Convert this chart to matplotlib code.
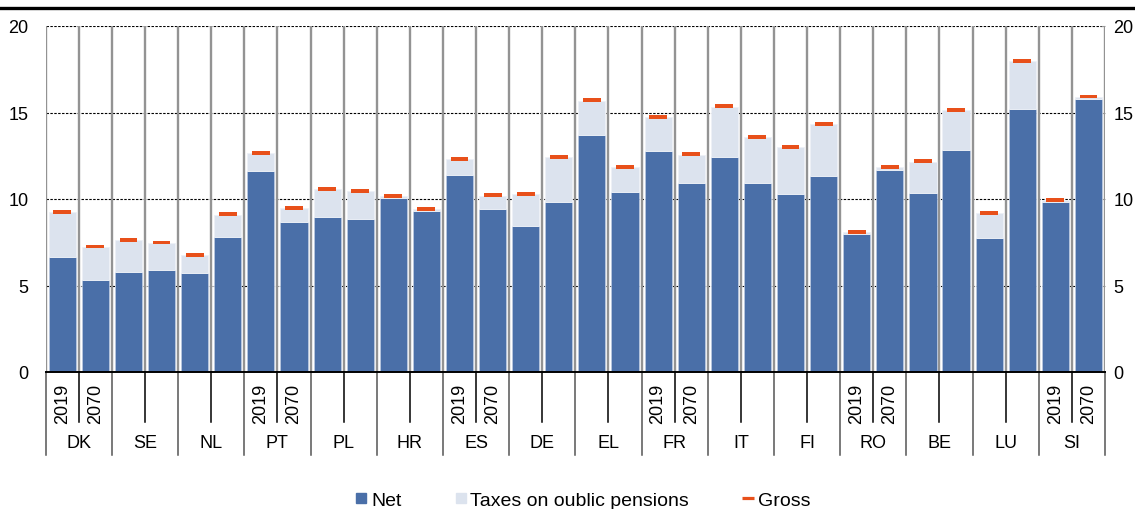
import matplotlib
matplotlib.use("Agg")
import matplotlib.pyplot as plt
from matplotlib.lines import Line2D
import matplotlib.transforms as mtransforms
import numpy as np

plt.rcParams['font.family'] = ['Liberation Sans', 'DejaVu Sans']

countries = ['DK', 'SE', 'NL', 'PT', 'PL', 'HR', 'ES', 'DE',
             'EL', 'FR', 'IT', 'FI', 'RO', 'BE', 'LU', 'SI']
years = ['2019', '2070']
year_label_countries = ['DK', 'PT', 'ES', 'FR', 'RO', 'SI']

# values per bar, in order country by country: 2019, 2070
net = [6.63, 5.32, 5.76, 5.91, 5.70, 7.78, 11.60, 8.69,
       8.94, 8.84, 10.06, 9.32, 11.39, 9.44, 8.44, 9.83,
       13.72, 10.40, 12.77, 10.90, 12.40, 10.94, 10.31, 11.35,
       7.99, 11.69, 10.36, 12.81, 7.76, 15.18, 9.84, 15.80]
taxes = [2.62, 1.91, 1.87, 1.56, 1.06, 1.31, 1.06, 0.79,
         1.64, 1.60, 0.11, 0.10, 0.92, 0.75, 1.85, 2.60,
         1.96, 1.45, 1.97, 1.66, 2.94, 2.64, 2.69, 2.97,
         0.10, 0.16, 1.80, 2.32, 1.43, 2.78, 0.10, 0.11]
gross = [9.27, 7.25, 7.65, 7.49, 6.78, 9.11, 12.68, 9.50,
         10.60, 10.46, 10.19, 9.44, 12.33, 10.21, 10.31, 12.45,
         15.70, 11.87, 14.76, 12.58, 15.36, 13.60, 13.02, 14.34,
         8.11, 11.87, 12.18, 15.15, 9.21, 17.98, 9.96, 15.93]

c_net = '#4a6fa8'
c_tax = '#dce3ee'
c_gross = '#e8501a'

W, H = 1135, 510
fig = plt.figure(figsize=(W / 100, H / 100), dpi=100)
left, right, bottom, top = 45.7, 1105, 373, 27
ax = fig.add_axes([left / W, 1 - bottom / H, (right - left) / W, (bottom - top) / H])

n = len(net)
x = np.arange(n) + 0.5
ax.bar(x, net, width=0.82, color=c_net, edgecolor='#b9c7de', linewidth=0.6, zorder=3)
ax.bar(x, taxes, bottom=net, width=0.82, color=c_tax, edgecolor='#eef1f7', linewidth=0.6, zorder=3)
gross_arr = np.array(gross)
ax.bar(x, 0.22, bottom=gross_arr - 0.11, width=0.54, color=c_gross, linewidth=0, zorder=4)

ax.set_xlim(0, n)
ax.set_ylim(0, 20)

# gridlines
for v in [5, 10, 15, 20]:
    ax.axhline(v, color='black', lw=0.8, ls=(0, (2.2, 1.3)), zorder=1)
for b in range(n + 1):
    ax.axvline(b, color='#939393', lw=1.7, zorder=2)

for s in ['top', 'left', 'right']:
    ax.spines[s].set_visible(False)
ax.spines['bottom'].set_color('black')
ax.spines['bottom'].set_linewidth(1.4)
ax.spines['bottom'].set_zorder(5)

ax.set_yticks([0, 5, 10, 15, 20])
ax.tick_params(axis='y', which='both', left=False, right=True, labelleft=True, labelright=True,
               direction='in', length=3, color='#999999', pad=6, labelsize=13)
ax.set_xticks([])

# left labels: right aligned, ~15 px from the axis
offset = mtransforms.ScaledTranslation(-9 / 100, 0, fig.dpi_scale_trans)
for t in ax.yaxis.get_major_ticks():
    t.label1.set_transform(t.label1.get_transform() + offset)

# category axis lines and labels
tr = ax.get_xaxis_transform()
ah = bottom - top
def ay(py):
    return -(py - bottom) / ah

for b in range(0, n + 1, 2):
    ax.plot([b, b], [0, ay(456)], transform=tr, color='#555555', lw=1.1, clip_on=False, zorder=5)
for b in range(1, n, 2):
    ax.plot([b, b], [0, ay(423)], transform=tr, color='black', lw=1.1, clip_on=False, zorder=5)

for i, c in enumerate(countries):
    ax.text(2 * i + 1, ay(444), c, transform=tr, ha='center', va='center', fontsize=13)
    if c in year_label_countries:
        for j, yr in enumerate(years):
            ax.text(2 * i + j + 0.5, ay(404), yr, transform=tr, ha='center', va='center',
                    rotation=90, fontsize=13)

# top rule
fig.add_artist(Line2D([0, 1], [1 - 8.5 / H] * 2, color='black', lw=2.4, transform=fig.transFigure))

handles = [
    Line2D([], [], ls='none', marker='s', markersize=7.3, color=c_net),
    Line2D([], [], ls='none', marker='s', markersize=7.3, color=c_tax),
    Line2D([], [], ls='none', marker='_', markersize=8, markeredgewidth=2.3, color=c_gross),
]
fig.legend(handles, ['Net', 'Taxes on oublic pensions', 'Gross'], loc='center',
           bbox_to_anchor=(583 / W, 1 - 501 / H), ncol=3, frameon=False, fontsize=14,
           handlelength=0.6, handletextpad=0.2, columnspacing=2.75, borderpad=0.2)

fig.savefig('out.png', dpi=100)
